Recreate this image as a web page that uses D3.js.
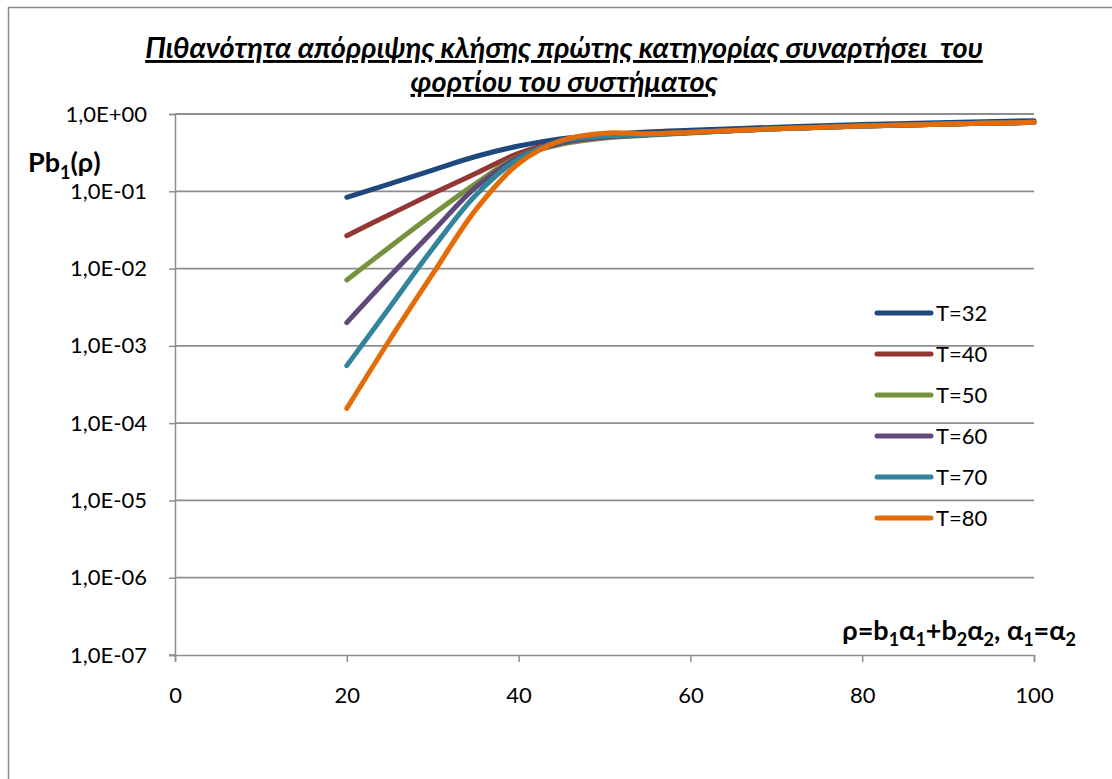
<!DOCTYPE html>
<html>
<head>
<meta charset="utf-8">
<script src="https://cdn.jsdelivr.net/npm/d3@7"></script>
<style>
  html, body { margin: 0; padding: 0; background: #fff; }
  svg { display: block; }
  text { font-family: Lato, "Open Sans", sans-serif; fill: #000; }
</style>
</head>
<body>
<svg id="chart" width="1112" height="779"></svg>
<script>
// ---- data ----
const xValues = [20, 25, 30, 35, 40, 45, 50, 55, 60, 70, 80, 90, 100];
const seriesNames = ["T=32", "T=40", "T=50", "T=60", "T=70", "T=80"];
const seriesColors = ["#1F497D", "#943634", "#76923C", "#5F497A", "#31849B", "#E36C09"];
const t32 = [0.0836, 0.1245, 0.1884, 0.2818, 0.3846, 0.4786, 0.537, 0.586, 0.617, 0.676, 0.733, 0.776, 0.818];
const t40 = [0.02667, 0.0501, 0.0933, 0.1698, 0.309, 0.437, 0.513, 0.543, 0.575, 0.646, 0.700, 0.741, 0.780];
const t50 = [0.00713, 0.01905, 0.0501, 0.1259, 0.2818, 0.407, 0.490, 0.531, 0.569, 0.646, 0.700, 0.741, 0.780];
const t60 = [0.00200, 0.00794, 0.0302, 0.1122, 0.2754, 0.422, 0.501, 0.537, 0.575, 0.646, 0.700, 0.741, 0.780];
const t70 = [0.000555, 0.00316, 0.0182, 0.0891, 0.263, 0.447, 0.519, 0.543, 0.575, 0.646, 0.700, 0.741, 0.780];
const t80 = [0.000155, 0.00120, 0.00851, 0.0575, 0.229, 0.457, 0.565, 0.556, 0.579, 0.646, 0.700, 0.741, 0.780];
const seriesValues = [t32, t40, t50, t60, t70, t80];
const yTickValues = [1, 1e-1, 1e-2, 1e-3, 1e-4, 1e-5, 1e-6, 1e-7];
const yTickLabels = ["1,0E+00", "1,0E-01", "1,0E-02", "1,0E-03", "1,0E-04", "1,0E-05", "1,0E-06", "1,0E-07"];
const xTickValues = [0, 20, 40, 60, 80, 100];
const titleLines = ["Πιθανότητα απόρριψης κλήσης πρώτης κατηγορίας συναρτήσει  του", "φορτίου του συστήματος"];

// ---- layout ----
const svg = d3.select("#chart");
const plot = { left: 175, right: 1034, top: 114, bottom: 655 };
const x = d3.scaleLinear().domain([0, 100]).range([plot.left, plot.right]);
const y = d3.scaleLog().domain([1e-7, 1]).range([plot.bottom, plot.top]);
const axisColor = "#8e8e8e";

// frame
svg.append("rect").attr("x", 8.5).attr("y", 7.5).attr("width", 1300).attr("height", 1000)
  .attr("fill", "none").attr("stroke", "#8a8a8a").attr("stroke-width", 1.5);

// grid
svg.append("g").selectAll("line").data(yTickValues.slice(0, -1)).join("line")
  .attr("x1", plot.left).attr("x2", plot.right)
  .attr("y1", d => y(d)).attr("y2", d => y(d))
  .attr("stroke", axisColor).attr("stroke-width", 1.8);

// y axis
const yAxis = d3.axisLeft(y).tickValues(yTickValues).tickSize(6).tickPadding(22)
  .tickFormat((d, i) => yTickLabels[i]);
const gy = svg.append("g").attr("transform", `translate(${plot.left},0)`).call(yAxis);
gy.select(".domain").attr("stroke", axisColor).attr("stroke-width", 1.5);
gy.selectAll(".tick line").attr("stroke", axisColor).attr("stroke-width", 1.5);
gy.selectAll(".tick text").style("font-size", "22px").style("font-family", "Lato, sans-serif").attr("fill", "#000");

// x axis
const xAxis = d3.axisBottom(x).tickValues(xTickValues).tickSize(7).tickPadding(25)
  .tickFormat(d3.format("d"));
const gx = svg.append("g").attr("transform", `translate(0,${plot.bottom})`).call(xAxis);
gx.select(".domain").attr("stroke", axisColor).attr("stroke-width", 1.5);
gx.selectAll(".tick line").attr("stroke", axisColor).attr("stroke-width", 1.5);
gx.selectAll(".tick text").style("font-size", "22px").style("font-family", "Lato, sans-serif").attr("fill", "#000");
svg.append("line").attr("x1", plot.left - 6).attr("x2", plot.left)
  .attr("y1", plot.bottom).attr("y2", plot.bottom).attr("stroke", axisColor).attr("stroke-width", 1.5);

// series
const line = d3.line().x(d => x(d[0])).y(d => y(d[1])).curve(d3.curveCatmullRom.alpha(0.5));
const gs = svg.append("g");
seriesValues.forEach((vals, i) => {
  gs.append("path").datum(xValues.map((xv, j) => [xv, vals[j]]))
    .attr("d", line).attr("fill", "none")
    .attr("stroke", seriesColors[i]).attr("stroke-width", 5)
    .attr("stroke-linecap", "round").attr("stroke-linejoin", "round");
});

// legend
const legend = svg.append("g");
seriesNames.forEach((name, i) => {
  const ly = 313 + i * 41;
  legend.append("line").attr("x1", 877).attr("x2", 931).attr("y1", ly).attr("y2", ly)
    .attr("stroke", seriesColors[i]).attr("stroke-width", 5).attr("stroke-linecap", "round");
  legend.append("text").attr("x", 936).attr("y", ly).attr("dy", "0.36em")
    .style("font-size", "22px").text(name);
});

// title: fit first line to the reference width
const titleWidth = 838;
const titles = titleLines.map((t, i) => svg.append("text").attr("x", 564).attr("y", 58 + i * 34)
    .attr("text-anchor", "middle")
    .style("font-size", "22px").style("font-weight", "bold").style("font-style", "italic")
    .style("text-decoration", "underline").style("white-space", "pre")
    .attr("xml:space", "preserve")
    .text(t));
const w0 = titles[0].node().getComputedTextLength();
const fs = Math.min(30, 22 * titleWidth / w0);
titles.forEach(t => t.style("font-size", fs + "px"));

// y axis title Pb1(ρ)
const yt = svg.append("text").attr("x", 28).attr("y", 172)
  .style("font-size", "27px").style("font-weight", "bold");
yt.append("tspan").text("Pb");
yt.append("tspan").attr("dy", 7).style("font-size", "18px").text("1");
yt.append("tspan").attr("dy", -7).text("(ρ)");

// x axis title
const xt = svg.append("text").attr("x", 1076).attr("y", 640).attr("text-anchor", "end")
  .style("font-size", "27px").style("font-weight", "bold");
const parts = [["ρ=b", 0], ["1", 1], ["α", 0], ["1", 1], ["+b", 0], ["2", 1], ["α", 0], ["2", 1],
               [", α", 0], ["1", 1], ["=α", 0], ["2", 1]];
let prevSub = 0;
parts.forEach(([txt, sub]) => {
  const ts = xt.append("tspan").text(txt);
  const dy = (sub - prevSub) * 6;
  if (dy !== 0) ts.attr("dy", dy);
  if (sub) ts.style("font-size", "18px");
  prevSub = sub;
});
</script>
</body>
</html>
